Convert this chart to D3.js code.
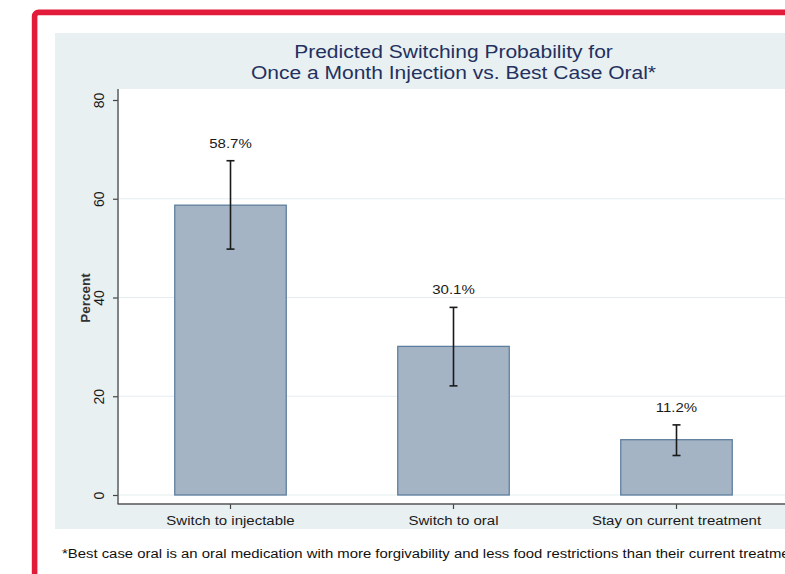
<!DOCTYPE html>
<html>
<head>
<meta charset="utf-8">
<script src="https://cdn.jsdelivr.net/npm/d3@7"></script>
<style>
  html, body { margin: 0; padding: 0; background: #ffffff; }
  svg { display: block; font-family: "Liberation Sans", Arial, sans-serif; }
</style>
</head>
<body>
<svg id="chart" width="785" height="574"></svg>
<script>
// Predicted switching probabilities with confidence intervals (percent)
const categories = ["Switch to injectable", "Switch to oral", "Stay on current treatment"];
const values = [58.7, 30.1, 11.2];
const ciLow = [49.8, 22.1, 8.0];
const ciHigh = [67.7, 38.0, 14.2];
const yTicks = [0, 20, 40, 60, 80];
const gridTicks = [0, 20, 40, 60];
const titleLines = ["Predicted Switching Probability for", "Once a Month Injection vs. Best Case Oral*"];
const yTitle = "Percent";
const footnote = "*Best case oral is an oral medication with more forgivability and less food restrictions than their current treatment.";

const svg = d3.select("#chart");
const stretch = 1.2; // glyphs are drawn wider than their height

function widen(sel, k) {
  sel.each(function () {
    const len = this.getComputedTextLength();
    d3.select(this).attr("textLength", len * k).attr("lengthAdjust", "spacingAndGlyphs");
  });
}

// Outer frame with red border
svg.append("rect")
  .attr("x", 34.6).attr("y", 12.4)
  .attr("width", 1000).attr("height", 1000)
  .attr("rx", 4)
  .attr("fill", "#ffffff")
  .attr("stroke", "#e31b3b")
  .attr("stroke-width", 5.6);

// Graph region background
svg.append("rect")
  .attr("x", 55).attr("y", 33)
  .attr("width", 800).attr("height", 496)
  .attr("fill", "#e8f0f2");

// Plot region
const plot = { left: 119, right: 788, top: 89, bottom: 504 };
svg.append("rect")
  .attr("x", plot.left).attr("y", plot.top)
  .attr("width", plot.right - plot.left).attr("height", plot.bottom - plot.top)
  .attr("fill", "#ffffff");

const x = d3.scaleBand()
  .domain(categories)
  .range([plot.left, plot.right])
  .paddingInner(0.5)
  .paddingOuter(0.25);

const y = d3.scaleLinear().domain([0, 80]).range([495, 100]);

// Grid lines
svg.append("g").selectAll("line")
  .data(gridTicks)
  .join("line")
  .attr("x1", plot.left).attr("x2", plot.right)
  .attr("y1", d => y(d)).attr("y2", d => y(d))
  .attr("stroke", "#e4edf0")
  .attr("stroke-width", 1.2);

// Bars
svg.append("g").selectAll("rect")
  .data(categories)
  .join("rect")
  .attr("x", d => x(d))
  .attr("width", x.bandwidth())
  .attr("y", (d, i) => y(values[i]))
  .attr("height", (d, i) => y(0) - y(values[i]))
  .attr("fill", "#a4b4c5")
  .attr("stroke", "#5f7f9f")
  .attr("stroke-width", 1.3);

// Confidence interval whiskers
const cap = 4;
const eb = svg.append("g").attr("stroke", "#1a1a1a").attr("stroke-width", 1.6);
categories.forEach((c, i) => {
  const cx = x(c) + x.bandwidth() / 2;
  eb.append("line").attr("x1", cx).attr("x2", cx).attr("y1", y(ciLow[i])).attr("y2", y(ciHigh[i]));
  eb.append("line").attr("x1", cx - cap).attr("x2", cx + cap).attr("y1", y(ciLow[i])).attr("y2", y(ciLow[i]));
  eb.append("line").attr("x1", cx - cap).attr("x2", cx + cap).attr("y1", y(ciHigh[i])).attr("y2", y(ciHigh[i]));
});

// Value labels above the whiskers
svg.append("g").selectAll("text")
  .data(categories)
  .join("text")
  .attr("x", d => x(d) + x.bandwidth() / 2)
  .attr("y", (d, i) => y(ciHigh[i]) - 13)
  .attr("text-anchor", "middle")
  .attr("font-size", 12.5)
  .attr("fill", "#1a1a1a")
  .text((d, i) => d3.format(".1f")(values[i]) + "%")
  .call(widen, stretch);

// Y axis
const yAxis = svg.append("g")
  .attr("transform", `translate(${plot.left - 1},0)`)
  .call(d3.axisLeft(y).tickValues(yTicks).tickSize(5).tickFormat(d3.format("d")));
yAxis.select(".domain").remove();
yAxis.selectAll(".tick line").attr("stroke", "#444444").attr("stroke-width", 1.2);
yAxis.selectAll(".tick text")
  .attr("transform", "rotate(-90)")
  .attr("x", 0).attr("y", -14).attr("dy", 0)
  .attr("text-anchor", "middle")
  .attr("font-size", 14)
  .attr("font-family", "Liberation Sans, Arial, sans-serif")
  .attr("fill", "#1a1a1a");
svg.append("line")
  .attr("x1", plot.left - 1).attr("x2", plot.left - 1)
  .attr("y1", plot.top).attr("y2", plot.bottom)
  .attr("stroke", "#555555").attr("stroke-width", 1.4);

// X axis
const xAxis = svg.append("g")
  .attr("transform", `translate(0,${plot.bottom})`)
  .call(d3.axisBottom(x).tickSize(5).tickPadding(7));
xAxis.select(".domain").remove();
xAxis.selectAll(".tick line").attr("stroke", "#444444").attr("stroke-width", 1.2);
xAxis.selectAll(".tick text")
  .attr("font-size", 12.5)
  .attr("font-family", "Liberation Sans, Arial, sans-serif")
  .attr("fill", "#1a1a1a")
  .call(widen, stretch);
svg.append("line")
  .attr("x1", plot.left - 1.5).attr("x2", plot.right)
  .attr("y1", plot.bottom).attr("y2", plot.bottom)
  .attr("stroke", "#555555").attr("stroke-width", 1.4);

// Y axis title
svg.append("text")
  .attr("transform", `translate(90,298) rotate(-90)`)
  .attr("text-anchor", "middle")
  .attr("font-size", 13.5)
  .attr("font-weight", "bold")
  .attr("fill", "#333333")
  .text(yTitle);

// Title
const cx = (plot.left + plot.right) / 2;
svg.append("g").selectAll("text")
  .data(titleLines)
  .join("text")
  .attr("x", cx)
  .attr("y", (d, i) => 57.5 + i * 21.5)
  .attr("text-anchor", "middle")
  .attr("font-size", 17.5)
  .attr("fill", "#24305e")
  .text(d => d)
  .call(widen, stretch);

// Footnote
svg.append("text")
  .attr("x", 62).attr("y", 557.5)
  .attr("font-size", 12.5)
  .attr("fill", "#111111")
  .text(footnote)
  .call(widen, 1.19);
</script>
</body>
</html>
